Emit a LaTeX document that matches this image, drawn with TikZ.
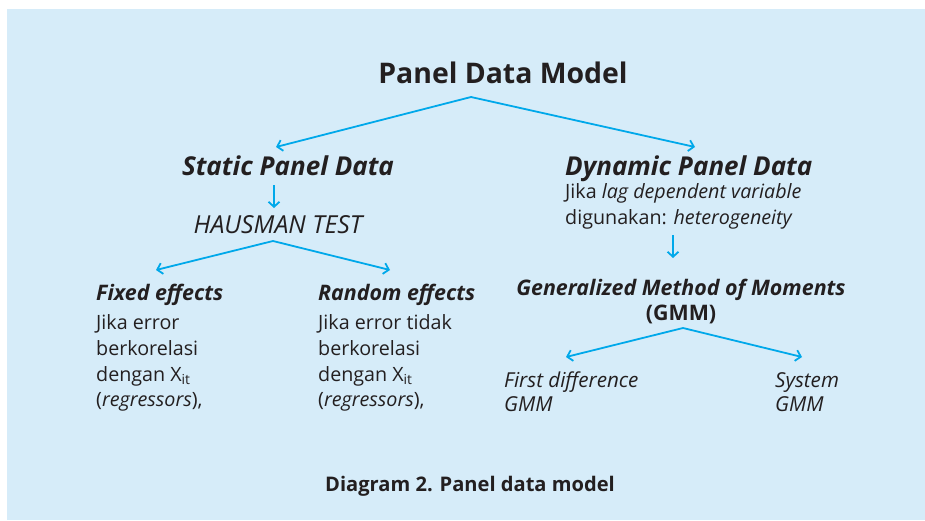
\documentclass[tikz,border=0pt]{standalone}
\usepackage{fontspec}
\setmainfont{Open Sans}
\usetikzlibrary{arrows.meta}

\definecolor{panelbg}{RGB}{214,236,249}
\definecolor{arrowblue}{RGB}{0,168,234}
\definecolor{inkgray}{RGB}{35,31,32}

\tikzset{
  arr/.style={arrowblue, line width=1.8pt, -{Straight Barb[length=5pt,width=11pt]}},
  headline/.style={text=inkgray, inner sep=0pt, font=\fontsize{28.4}{32}\selectfont\bfseries},
  branch/.style={text=inkgray, inner sep=0pt, font=\fontsize{26}{30}\selectfont\bfseries\itshape},
  testlabel/.style={text=inkgray, inner sep=0pt, font=\fontsize{24.8}{28}\selectfont\itshape},
  subhead/.style={text=inkgray, inner sep=0pt, font=\fontsize{21.4}{25}\selectfont\bfseries\itshape},
  bodytext/.style={text=inkgray, inner sep=0pt, font=\fontsize{19.7}{24}\selectfont},
  variant/.style={text=inkgray, inner sep=0pt, font=\fontsize{20.6}{24}\selectfont\itshape},
  caption/.style={text=inkgray, inner sep=0pt, font=\fontsize{20.1}{24}\selectfont\bfseries}
}

\begin{document}
\begin{tikzpicture}[x=1pt, y=-1pt]

  % background panel
  \useasboundingbox (0,0) rectangle (925,520);
  \fill[panelbg] (7,9) rectangle (925,520);

  \node[headline, anchor=base] (model) at (503,83) {Panel Data Model};

  \node[branch, anchor=base] (static) at (288,175) {Static Panel Data};
  \node[branch, anchor=base west] (dynamic) at (565,175) {Dynamic Panel Data};

  \coordinate (model-split) at (471,97);
  \coordinate (static-in) at (276,147);
  \coordinate (dynamic-in) at (695,147);
  \draw[arr] (model-split) -- (static-in);
  \draw[arr] (model-split) -- (dynamic-in);

  % static side
  \node[testlabel, anchor=base] (hausman) at (278,233) {HAUSMAN TEST};
  \coordinate (static-out) at (274,185);
  \coordinate (hausman-in) at (274,208);
  \draw[arr] (static-out) -- (hausman-in);

  \coordinate (hausman-split) at (273,241);
  \coordinate (fixed-in) at (156,270);
  \coordinate (random-in) at (390,270);
  \draw[arr] (hausman-split) -- (fixed-in);
  \draw[arr] (hausman-split) -- (random-in);

  \node[subhead, anchor=base west] (fixed) at (96,300) {Fixed effects};
  \node[bodytext, anchor=base west] (fixed-1) at (96,329) {Jika error};
  \node[bodytext, anchor=base west] (fixed-2) at (96,355) {berkorelasi};
  \node[bodytext, anchor=base west] (fixed-3) at (96,381) {dengan X\textsubscript{it}};
  \node[bodytext, anchor=base west] (fixed-4) at (96,406) {(\textit{regressors}),};

  \node[subhead, anchor=base west] (random) at (318,300) {Random effects};
  \node[bodytext, anchor=base west] (random-1) at (318,329) {Jika error tidak};
  \node[bodytext, anchor=base west] (random-2) at (318,355) {berkorelasi};
  \node[bodytext, anchor=base west] (random-3) at (318,381) {dengan X\textsubscript{it}};
  \node[bodytext, anchor=base west] (random-4) at (318,406) {(\textit{regressors}),};

  % dynamic side
  \node[bodytext, anchor=base west] (dynamic-1) at (565,198) {Jika \textit{lag dependent variable}};
  \node[bodytext, anchor=base west] (dynamic-2) at (565,224) {digunakan: \textit{heterogeneity}};

  \coordinate (dynamic-out) at (673,235);
  \coordinate (gmm-in) at (673,258);
  \draw[arr] (dynamic-out) -- (gmm-in);

  \node[subhead, anchor=base] (gmm) at (681,295) {Generalized Method of Moments};
  \node[subhead, font=\fontsize{21.4}{25}\selectfont\bfseries, anchor=base] (gmm-abbr) at (681,320) {(GMM)};

  \coordinate (gmm-split) at (683,328);
  \coordinate (first-in) at (566,357);
  \coordinate (system-in) at (802,357);
  \draw[arr] (gmm-split) -- (first-in);
  \draw[arr] (gmm-split) -- (system-in);

  \node[variant, anchor=base west] (first-1) at (504,387) {First difference};
  \node[variant, anchor=base west] (first-2) at (504,411) {GMM};
  \node[variant, anchor=base west] (system-1) at (775,387) {System};
  \node[variant, anchor=base west] (system-2) at (775,411) {GMM};

  \node[caption, anchor=base] (diagram) at (470,491) {Diagram 2. Panel data model};

\end{tikzpicture}
\end{document}
